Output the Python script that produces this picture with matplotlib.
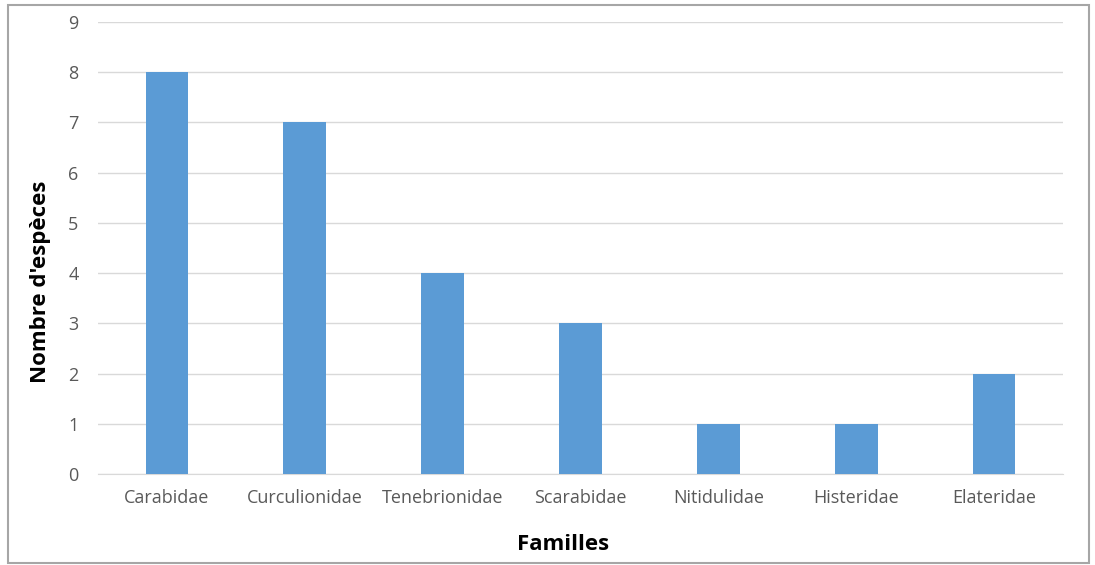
import matplotlib.pyplot as plt
from matplotlib.patches import Rectangle

# familles et nombre d'espèces
familles = ['Carabidae', 'Curculionidae', 'Tenebrionidae', 'Scarabidae',
            'Nitidulidae', 'Histeridae', 'Elateridae']
especes = [8, 7, 4, 3, 1, 1, 2]

plt.rcParams['font.family'] = ['Open Sans', 'DejaVu Sans']

fig = plt.figure(figsize=(10.95, 5.65), dpi=100)
ax = fig.add_axes([0.0895, 0.161, 0.8813, 0.800])

ax.bar(range(len(familles)), especes, width=0.31, color='#5B9BD5', zorder=3)
ax.set_xlim(-0.5, len(familles) - 0.5)
ax.set_ylim(0, 9)
ax.set_yticks(range(10))
ax.set_xticks(range(len(familles)))
ax.set_xticklabels(familles)

ax.grid(axis='y', color='#D9D9D9', linewidth=1, zorder=0)
for s in ['top', 'right', 'left']:
    ax.spines[s].set_visible(False)
ax.spines['bottom'].set_color('#D9D9D9')
ax.tick_params(axis='both', length=0, colors='#595959', labelsize=13)
ax.tick_params(axis='x', pad=11)
ax.tick_params(axis='y', pad=14)

ax.set_xlabel('Familles', fontsize=16, fontweight='bold')
ax.set_ylabel("Nombre d'espèces", fontsize=16, fontweight='bold')
ax.xaxis.set_label_coords(0.482, -0.157)
ax.yaxis.set_label_coords(-0.060, 0.425)
ax.xaxis.label.set_va('center')
ax.yaxis.label.set_va('center')

# cadre autour du graphique
fig.patches.append(Rectangle((8 / 1095, 2 / 565), 1081 / 1095, 558 / 565,
                             transform=fig.transFigure, fill=False,
                             edgecolor='#A6A6A6', linewidth=1.5))

fig.savefig('out.png', dpi=100)
